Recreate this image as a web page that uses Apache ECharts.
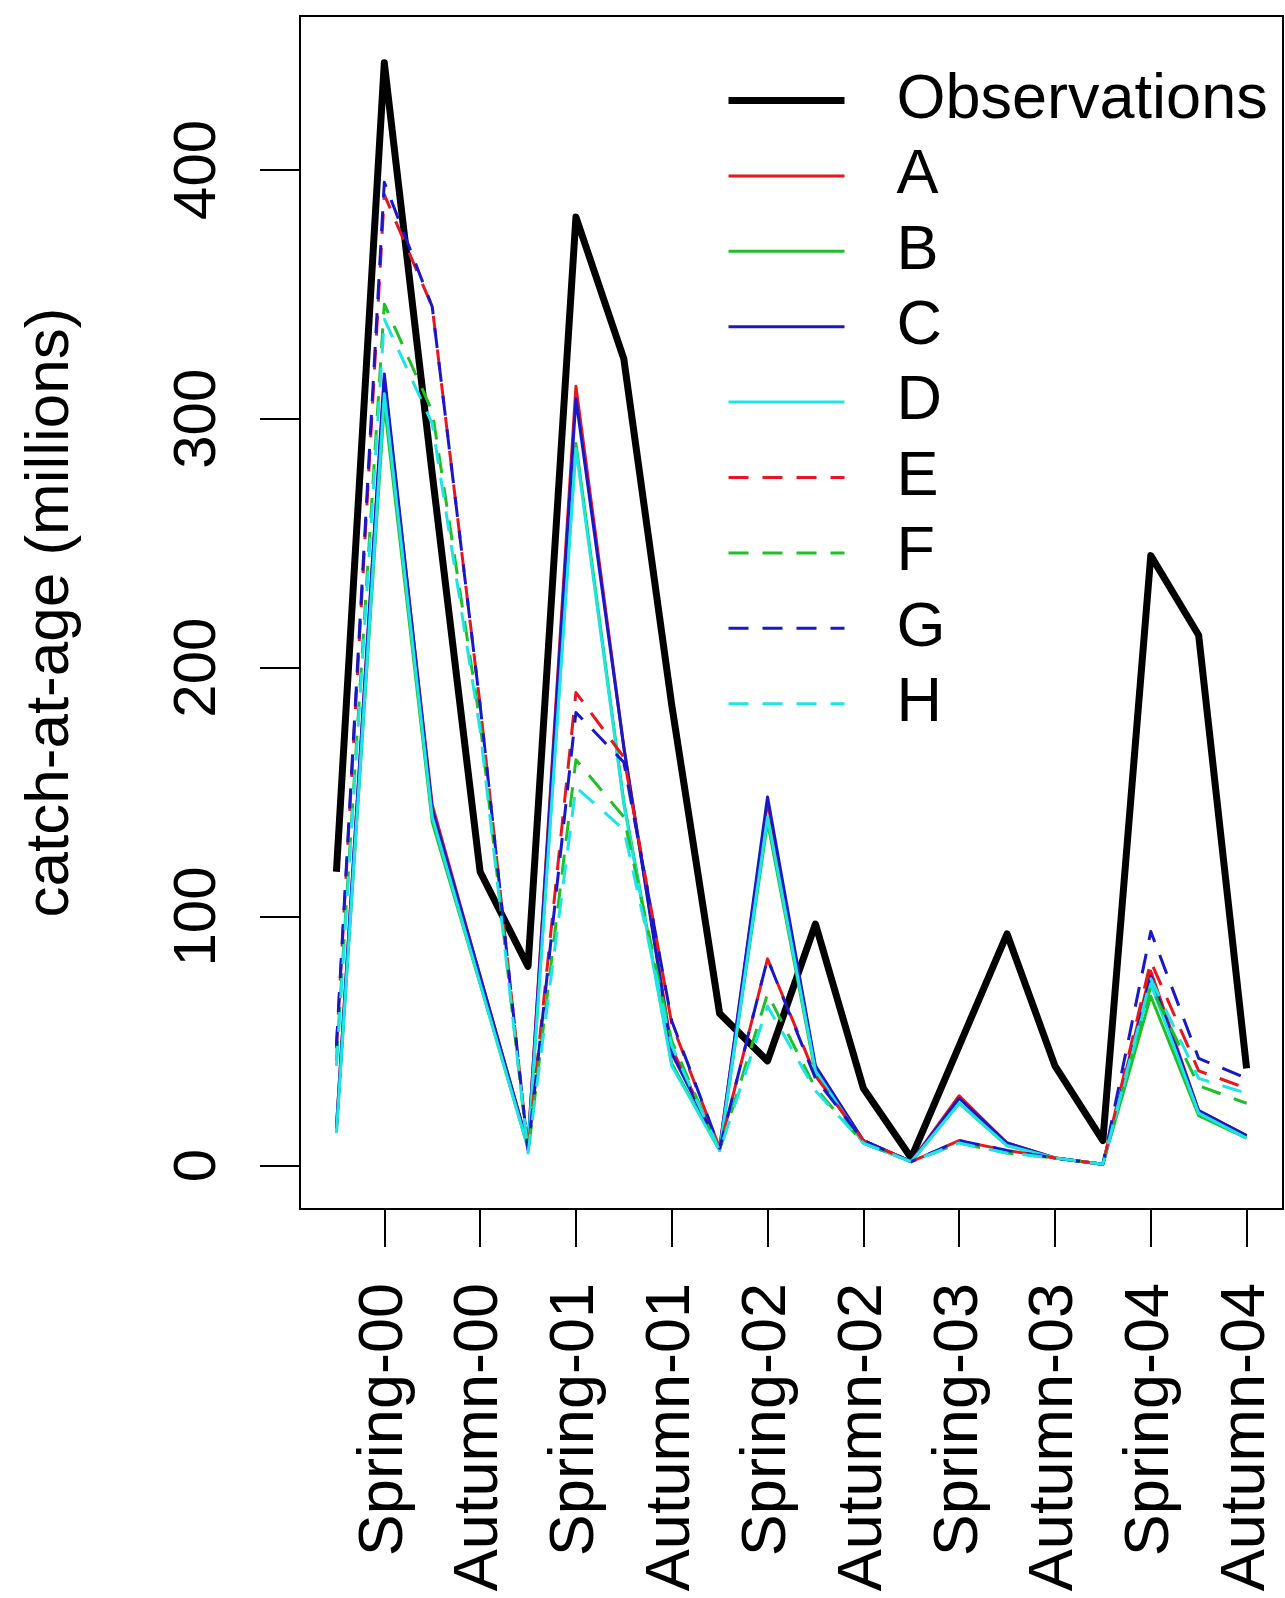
<!DOCTYPE html>
<html>
<head>
<meta charset="utf-8">
<script src="https://cdn.jsdelivr.net/npm/echarts@6/dist/echarts.min.js"></script>
<style>
html,body{margin:0;padding:0;background:#fff;}
#chart{width:1285px;height:1598px;}
</style>
</head>
<body>
<div id="chart"></div>
<script>
// ---- data ----
const quarterIndex = [1,2,3,4,5,6,7,8,9,10,11,12,13,14,15,16,17,18,19,20];
const tickPositions = [2,4,6,8,10,12,14,16,18,20];
const tickLabels = ['Spring-00','Autumn-00','Spring-01','Autumn-01','Spring-02','Autumn-02','Spring-03','Autumn-03','Spring-04','Autumn-04'];
const yTicks = [0,100,200,300,400];
const yAxisTitle = 'catch-at-age (millions)';

const observations = [118,443,278,118,80,381,324,185,61,42,97,31,3,48,93,40,10,245,213,39];
const seriesA = [15,316,145,76,8,313,168,47,7,146,39,10,1.5,28,9,3,0.5,78,22,12];
const seriesB = [14,306,138,73,7,290,146,41,6,138,37,9,1.5,25,8,3,0.5,68,20,11];
const seriesC = [15,318,143,76,8,308,168,45,7,148,40,10,1.5,27,9,3,0.5,76,22,12];
const seriesD = [13,310,140,73,7,288,145,40,6,140,38,9,1.5,25,8,3,0.5,73,21,11];
const seriesE = [47,390,345,185,6,190,164,57,7,83,36,10,1.5,10,6,3,0.5,82,38,31];
const seriesF = [42,346,303,178,5,163,140,50,6,69,31,9,1.5,9,5,3,0.5,72,32,25];
const seriesG = [48,395,345,185,6,182,162,58,7,83,35,10,1.5,10,6,3,0.5,94,43,35];
const seriesH = [40,340,298,175,5,152,135,48,6,64,30,9,1.5,9,5,3,0.5,75,35,29];

const seriesNames = ['Observations','A','B','C','D','E','F','G','H'];
const seriesValues = [observations,seriesA,seriesB,seriesC,seriesD,seriesE,seriesF,seriesG,seriesH];

// ---- styles ----
const FONT = '"Liberation Sans", Arial, Helvetica, sans-serif';
const RED = '#E8161E', GREEN = '#1FBF26', BLUE = '#1818C8', CYAN = '#1FE4E4';
const styles = [
  {color:'#000000', width:7, type:'solid'},
  {color:RED, width:3, type:'solid'},
  {color:GREEN, width:3, type:'solid'},
  {color:BLUE, width:3, type:'solid'},
  {color:CYAN, width:3, type:'solid'},
  {color:RED, width:3, type:[20,14]},
  {color:GREEN, width:3, type:[20,14]},
  {color:BLUE, width:3, type:[20,14]},
  {color:CYAN, width:3, type:[20,14]}
];

const series = seriesNames.map((name, k) => ({
  name: name,
  type: 'line',
  data: quarterIndex.map((x, i) => [x, seriesValues[k][i]]),
  symbol: 'none',
  showSymbol: false,
  animation: false,
  z: 2 + k,
  lineStyle: {color: styles[k].color, width: styles[k].width, type: styles[k].type, cap: 'butt', join: 'round'},
  itemStyle: {color: styles[k].color}
}));

const legendData = seriesNames.map((name, k) => ({
  name: name,
  itemStyle: {opacity: 0},
  lineStyle: {color: styles[k].color, width: styles[k].width, type: styles[k].type}
}));

const chart = echarts.init(document.getElementById('chart'), null, {renderer: 'canvas'});
chart.setOption({
  backgroundColor: '#ffffff',
  animation: false,
  grid: {left: 300, right: 2, top: 16, bottom: 389, show: true, borderColor: '#000', borderWidth: 2, backgroundColor: 'transparent'},
  legend: {
    orient: 'vertical',
    left: 725,
    top: 69,
    padding: 0,
    itemWidth: 116,
    itemHeight: 2,
    itemGap: 12.4,
    data: legendData,
    selectedMode: false,
    itemStyle: {opacity: 0},
    lineStyle: {width: 'inherit'},
    textStyle: {fontSize: 63, fontFamily: FONT, color: '#000', lineHeight: 63, padding: [0, 0, 0, 47]}
  },
  xAxis: {
    type: 'value',
    min: 0.24,
    max: 20.76,
    axisLine: {show: true, onZero: false, lineStyle: {color: '#000', width: 2}},
    axisTick: {show: true, customValues: tickPositions, length: 38, lineStyle: {color: '#000', width: 2}},
    axisLabel: {
      customValues: tickPositions,
      formatter: function (v) { const j = tickPositions.indexOf(Math.round(v)); return j >= 0 ? tickLabels[j] : ''; },
      rotate: 90, fontSize: 63, margin: 74, color: '#000', fontFamily: FONT
    },
    splitLine: {show: false}
  },
  yAxis: {
    type: 'value',
    min: -17.5,
    max: 461.8,
    name: yAxisTitle,
    nameLocation: 'middle',
    nameRotate: 90,
    nameGap: 218,
    nameTextStyle: {fontSize: 62, fontFamily: FONT, color: '#000'},
    axisLine: {show: true, onZero: false, lineStyle: {color: '#000', width: 2}},
    axisTick: {show: true, customValues: yTicks, length: 40, lineStyle: {color: '#000', width: 2}},
    axisLabel: {customValues: yTicks, rotate: 90, fontSize: 60, margin: 72, color: '#000', fontFamily: FONT},
    splitLine: {show: false}
  },
  series: series
});
</script>
</body>
</html>
